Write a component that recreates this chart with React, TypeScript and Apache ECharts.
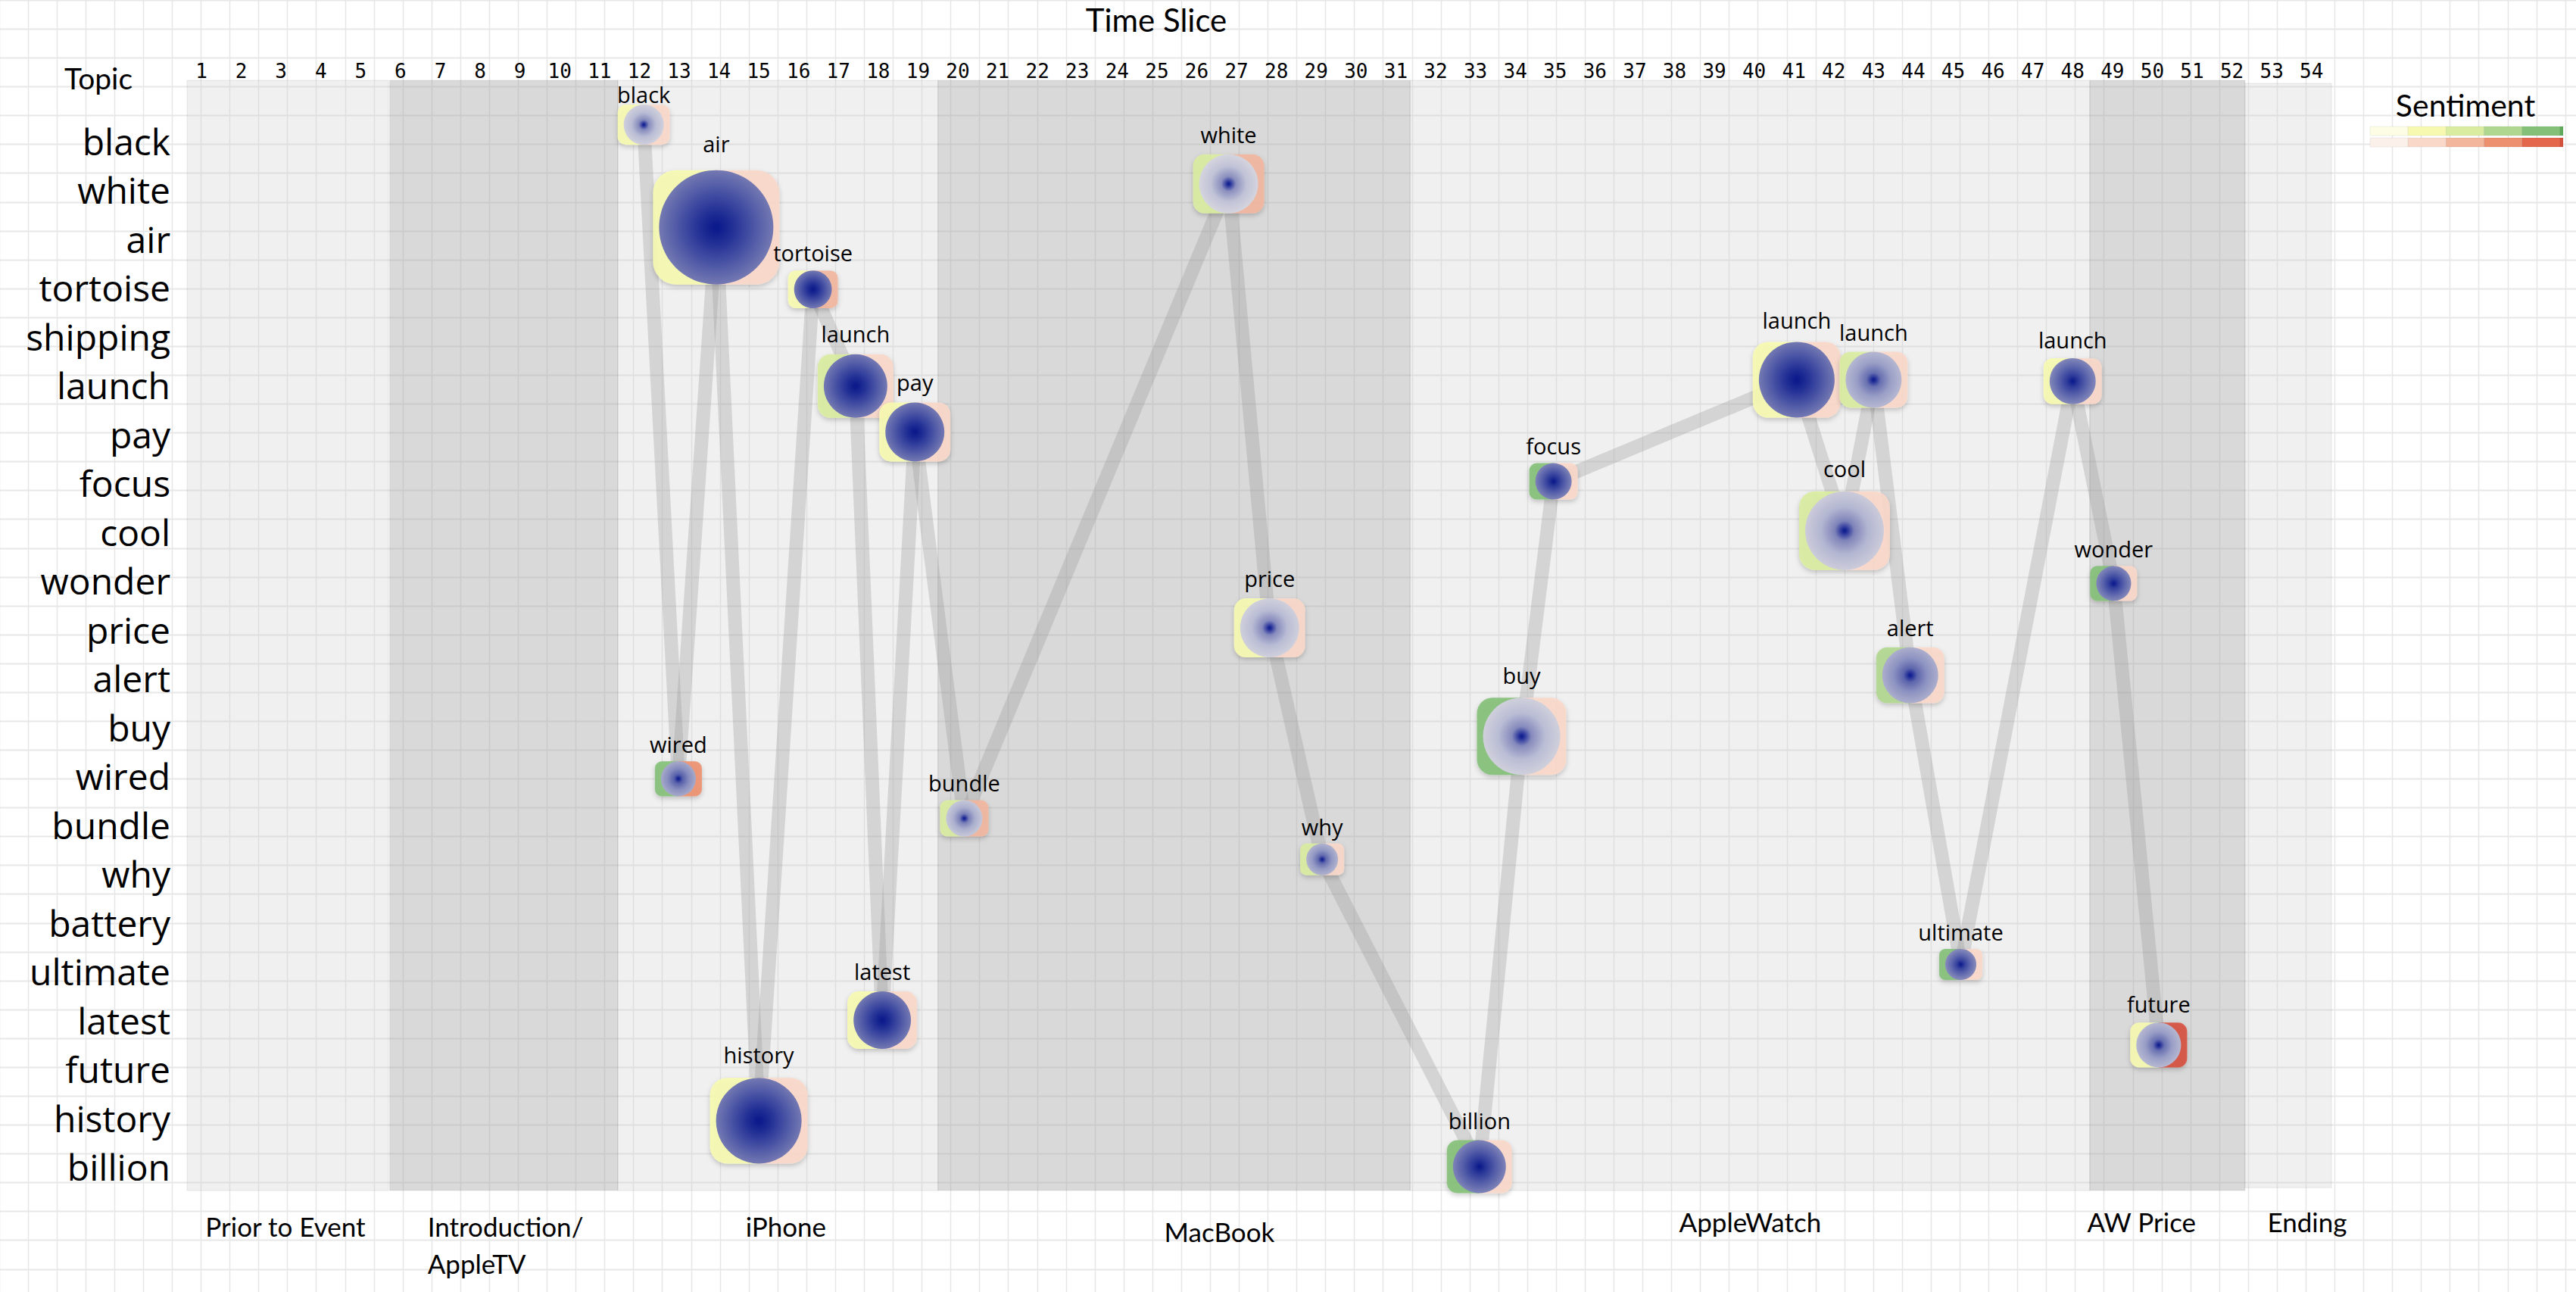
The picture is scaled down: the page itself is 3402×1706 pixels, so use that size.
import React, { useEffect, useRef } from 'react';
import * as echarts from 'echarts';

// ---------------- data ----------------
const topics = ['black', 'white', 'air', 'tortoise', 'shipping', 'launch', 'pay', 'focus', 'cool', 'wonder', 'price', 'alert', 'buy', 'wired', 'bundle', 'why', 'battery', 'ultimate', 'latest', 'future', 'history', 'billion'];

// bubbles in chronological order (time slice, topic row)
const bubbleTopic = ['black', 'wired', 'air', 'history', 'tortoise', 'launch', 'latest', 'pay', 'bundle', 'white', 'price', 'why', 'billion', 'buy', 'focus', 'launch', 'cool', 'launch', 'alert', 'ultimate', 'launch', 'wonder', 'future'];
const bubbleSlice = [12.11, 12.98, 13.93, 15.0, 16.36, 17.43, 18.1, 18.92, 20.16, 26.8, 27.83, 29.15, 33.1, 34.16, 34.96, 41.07, 42.27, 43.0, 43.92, 45.19, 48.0, 49.03, 50.16];
const bubbleRow = [-0.33, 13.06, 1.77, 20.06, 3.04, 5.02, 18.0, 5.96, 13.87, 0.88, 9.97, 14.71, 21.0, 12.19, 6.97, 4.89, 7.98, 4.89, 10.94, 16.86, 4.92, 9.06, 18.51];
const bubbleMentions = [78, 59, 633, 355, 69, 196, 160, 169, 64, 169, 169, 49, 136, 289, 64, 278, 300, 152, 152, 47, 103, 59, 97];
const bubblePositive = [1, 4, 1, 1, 1, 2, 1, 1, 2, 2, 1, 2, 4, 4, 4, 1, 2, 2, 3, 4, 1, 4, 1];
const bubbleNegative = [1, 3, 1, 1, 2, 1, 1, 1, 2, 2, 1, 1, 1, 1, 1, 1, 1, 1, 1, 1, 1, 1, 5];
const bubbleFocus = [0.1, 0.5, 1, 1, 1, 1, 1, 1, 0.2, 0.05, 0.1, 0.4, 0.9, 0.1, 0.9, 1, 0.15, 0.35, 0.45, 0.8, 0.85, 0.85, 0.35];

const positiveScale = ['#fdfde6', '#f7f9b0', '#d9eca0', '#b0d78f', '#84c078', '#5faa5c'];
const negativeScale = ['#fcf0ea', '#f9d8ca', '#f2b69d', '#ec906f', '#e4674b', '#d6503e'];

const phaseNames = ['Prior to Event', 'Introduction/\nAppleTV', 'iPhone', 'MacBook', 'AppleWatch', 'AW Price', 'Ending'];
const phaseStart = [0.64, 5.73, 11.46, 19.5, 31.36, 48.43, 52.33];
const phaseEnd = [5.7, 11.46, 19.5, 31.36, 48.43, 52.33, 54.5];
const phaseTop = [-1.24, -1.24, -1.24, -1.24, -1.24, -1.24, -1.18];
const phaseBottom = [21.49, 21.49, 21.49, 21.49, 21.49, 21.49, 21.43];
const phaseDark = [0, 1, 0, 1, 0, 1, 0];
const phaseLabelAt = [3.11, 6.68, 15.68, 26.57, 39.9, 49.73, 53.89];
const phaseLabelAlign = ['center', 'left', 'center', 'center', 'center', 'center', 'center'];
const phaseLabelRow = [22.42, 22.42, 22.42, 22.54, 22.33, 22.33, 22.33];

// ---------------- helpers ----------------
const W = 3402;
const H = 1706;
const SLICE0 = 266 - 52.58; // pixel of slice 0
const SLICE_W = 52.58;
const ROW0 = 186 - 2 * 64.5; // pixel of row -2
const ROW_H = 64.5;

function sizeOf(m: number) {
  return 6 * Math.sqrt(m);
}

function hexToRgb(h: string) {
  const n = parseInt(h.slice(1), 16);
  return [(n >> 16) & 255, (n >> 8) & 255, n & 255];
}
function mix(a: string, b: string, t: number) {
  const A = hexToRgb(a);
  const B = hexToRgb(b);
  return 'rgb(' + A.map((v, i) => Math.round(v + (B[i] - v) * t)).join(',') + ')';
}
const lightStops: [number, string][] = [[0, '#0a1a8c'], [0.06, '#24309a'], [0.25, '#9094c0'], [0.6, '#c6c8d9'], [1, '#dadae1']];
const darkStops: [number, string][] = [[0, '#0a1a8c'], [0.06, '#0d1c8c'], [0.25, '#1e2c94'], [0.6, '#4550a3'], [1, '#7479b2']];
function gradientFor(f: number) {
  return {
    type: 'radial',
    x: 0.5,
    y: 0.5,
    r: 0.5,
    colorStops: lightStops.map((s, i) => ({ offset: s[0], color: mix(s[1], darkStops[i][1], f) })),
  };
}

export default function App() {
  const ref = useRef<HTMLDivElement>(null);

  useEffect(() => {
    if (!ref.current) return;
    const chart = echarts.init(ref.current, null, { renderer: 'svg', width: W, height: H });

    const bubbleData = bubbleSlice.map((x, i) => [x, bubbleRow[i], bubbleMentions[i], bubblePositive[i], bubbleNegative[i], bubbleFocus[i]]);
    const segData = bubbleSlice.slice(1).map((x, i) => [bubbleSlice[i], bubbleRow[i], x, bubbleRow[i + 1]]);
    const phaseData = phaseNames.map((_, i) => [phaseStart[i], phaseEnd[i], phaseTop[i], phaseBottom[i], phaseDark[i], phaseLabelAt[i], phaseLabelRow[i]]);

    // page background grid
    const graphics: any[] = [];
    for (let k = -1; k * 38.08 + 36.7 < W; k++) {
      const x = Math.round(36.7 + 38.08 * k) + 0.5;
      graphics.push({ type: 'line', z: -10, silent: true, shape: { x1: x, y1: 0, x2: x, y2: H }, style: { stroke: '#e6e6e6', lineWidth: 1.5 } });
    }
    for (let k = 0; k * 38.08 < H; k++) {
      const y = Math.round(38.08 * k) + 0.5;
      graphics.push({ type: 'line', z: -10, silent: true, shape: { x1: 0, y1: y, x2: W, y2: y }, style: { stroke: '#e7e7e7', lineWidth: 2 } });
    }
    // titles
    graphics.push({ type: 'text', z: 10, style: { text: 'Time Slice', x: 1527, y: 26, align: 'center', verticalAlign: 'middle', font: '42px Lato', fill: '#000' } });
    graphics.push({ type: 'text', z: 10, style: { text: 'Topic', x: 130, y: 103, align: 'center', verticalAlign: 'middle', font: '39px Lato', fill: '#000' } });
    graphics.push({ type: 'text', z: 10, style: { text: 'Sentiment', x: 3256, y: 138, align: 'center', verticalAlign: 'middle', font: '41px Lato', fill: '#000' } });
    // sentiment legend
    const cellW = 50.2;
    const lx = 3130;
    [positiveScale, negativeScale].forEach((scale, row) => {
      const y = row === 0 ? 167 : 182;
      scale.forEach((c, j) => {
        const w = j < 5 ? cellW : 4;
        graphics.push({ type: 'rect', z: 10, shape: { x: lx + j * cellW, y, width: w, height: 12 }, style: { fill: c, stroke: 'rgba(0,0,0,0.06)', lineWidth: 1 } });
      });
    });

    const option: any = {
      animation: false,
      backgroundColor: '#ffffff',
      grid: {
        left: SLICE0,
        right: W - (SLICE0 + 55 * SLICE_W),
        top: ROW0,
        bottom: H - (ROW0 + 25 * ROW_H),
        containLabel: false,
        outerBoundsMode: 'none',
      },
      xAxis: {
        type: 'value',
        min: 0,
        max: 55,
        interval: 1,
        position: 'top',
        offset: -47,
        axisLine: { show: false },
        axisTick: { show: false },
        splitLine: { show: false },
        axisLabel: {
          margin: 10,
          verticalAlign: 'middle',
          fontFamily: 'DejaVu Sans Mono',
          fontSize: 26,
          color: '#000',
          formatter: (v: number) => (v >= 1 && v <= 54 ? String(v) : ''),
        },
      },
      yAxis: {
        type: 'value',
        min: -2,
        max: 23,
        interval: 1,
        inverse: true,
        offset: -19.6,
        axisLine: { show: false },
        axisTick: { show: false },
        splitLine: { show: false },
        axisLabel: {
          margin: 8,
          fontFamily: 'Open Sans',
          fontSize: 48,
          color: '#000',
          formatter: (v: number) => (Number.isInteger(v) && topics[v] !== undefined ? topics[v] : ''),
        },
      },
      graphic: graphics,
      series: [
        {
          type: 'custom',
          name: 'phases',
          z: 1,
          silent: true,
          data: phaseData,
          renderItem: (params: any, api: any) => {
            const i = params.dataIndex;
            const p1 = api.coord([api.value(0), api.value(2)]);
            const p2 = api.coord([api.value(1), api.value(3)]);
            const dark = api.value(4) === 1;
            const lp = api.coord([api.value(5), api.value(6)]);
            return {
              type: 'group',
              children: [
                {
                  type: 'rect',
                  shape: { x: p1[0], y: p1[1], width: p2[0] - p1[0], height: p2[1] - p1[1] },
                  style: { fill: dark ? 'rgba(165,165,165,0.42)' : 'rgba(205,205,205,0.3)', stroke: 'rgba(0,0,0,0.05)', lineWidth: 1.5 },
                },
                {
                  type: 'text',
                  style: {
                    text: phaseNames[i],
                    x: lp[0],
                    y: lp[1] - 38,
                    align: phaseLabelAlign[i],
                    verticalAlign: 'top',
                    lineHeight: 49,
                    font: '35px Lato',
                    fill: '#000',
                  },
                },
              ],
            };
          },
        },
        {
          type: 'custom',
          name: 'transitions',
          z: 2,
          silent: true,
          data: segData,
          renderItem: (params: any, api: any) => {
            const a = api.coord([api.value(0), api.value(1)]);
            const b = api.coord([api.value(2), api.value(3)]);
            return {
              type: 'line',
              shape: { x1: a[0], y1: a[1], x2: b[0], y2: b[1] },
              style: { stroke: 'rgba(150,150,150,0.3)', lineWidth: 18 },
            };
          },
        },
        {
          type: 'custom',
          name: 'topics',
          z: 3,
          data: bubbleData,
          renderItem: (params: any, api: any) => {
            const i = params.dataIndex;
            const [cx, cy] = api.coord([api.value(0), api.value(1)]);
            const d = sizeOf(api.value(2));
            const pad = 8;
            const r = 0.2 * d;
            const top = cy - d / 2;
            const gap = 6 + 0.12 * d;
            // keep labels clear of the time-slice tick labels
            const baseline = Math.max(top - gap, 136);
            const shadow = { shadowBlur: 6, shadowOffsetY: 3, shadowColor: 'rgba(0,0,0,0.22)' };
            return {
              type: 'group',
              children: [
                {
                  type: 'rect',
                  shape: { x: cx - d / 2 - pad, y: top, width: d / 2 + pad, height: d, r: [r, 0, 0, r] },
                  style: { fill: positiveScale[api.value(3)], opacity: 0.9, ...shadow },
                },
                {
                  type: 'rect',
                  shape: { x: cx, y: top, width: d / 2 + pad, height: d, r: [0, r, r, 0] },
                  style: { fill: negativeScale[api.value(4)], opacity: 0.9, ...shadow },
                },
                {
                  type: 'circle',
                  shape: { cx, cy, r: d / 2 },
                  style: { fill: gradientFor(api.value(5)) },
                },
                {
                  type: 'text',
                  style: {
                    text: bubbleTopic[i],
                    x: cx,
                    y: baseline - 11.3,
                    align: 'center',
                    verticalAlign: 'middle',
                    font: '29px "Open Sans"',
                    fill: '#000',
                  },
                },
              ],
            };
          },
        },
      ],
    };

    chart.setOption(option);
    return () => chart.dispose();
  }, []);

  return <div ref={ref} style={{ position: 'fixed', left: 0, top: 0, width: W + 'px', height: H + 'px' }} />;
}
